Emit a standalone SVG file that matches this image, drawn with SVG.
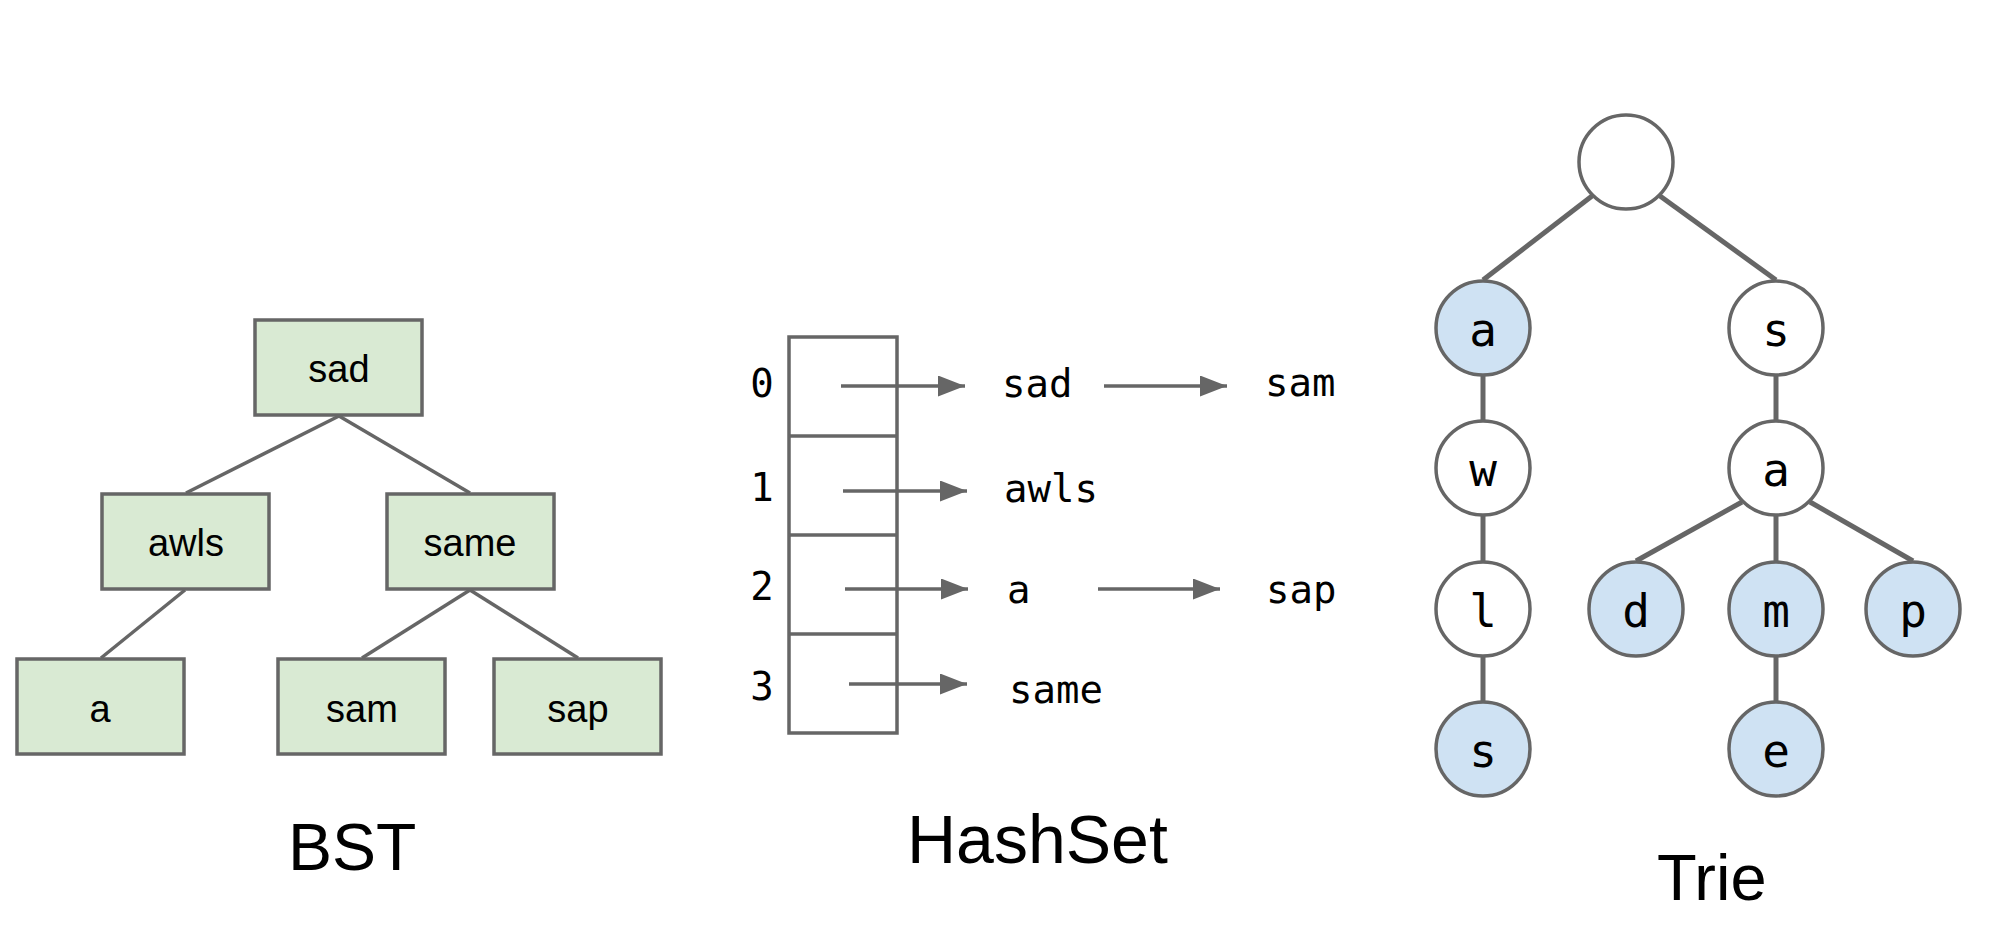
<svg xmlns="http://www.w3.org/2000/svg" width="1992" height="950" viewBox="0 0 1992 950">
<defs>
<style>
.bst rect{fill:#d9ead3;stroke:#666666;stroke-width:3.5}
.bt{font-family:"Liberation Sans",Arial,sans-serif;font-size:38px;fill:#000;text-anchor:middle}
.title{font-family:"Liberation Sans",Arial,sans-serif;fill:#000}
.edge{stroke:#666666;stroke-width:3.5;fill:none}
.tedge{stroke:#666666;stroke-width:5;fill:none}
.mono{font-family:"DejaVu Sans Mono","Liberation Mono",monospace;font-size:39px;fill:#000}
.tn circle{stroke:#666666;stroke-width:3.5;fill:#ffffff}
.tn.term circle{fill:#cfe2f3}
.tt{font-family:"DejaVu Sans Mono","Liberation Mono",monospace;font-size:46px;fill:#000;text-anchor:middle}
.arrow{stroke:#666666;stroke-width:3.5;fill:none;marker-end:url(#ah)}
.bucket{fill:none;stroke:#666666;stroke-width:3.5}
</style>
<marker id="ah" markerUnits="userSpaceOnUse" markerWidth="27" markerHeight="21" refX="27" refY="10.5" orient="auto">
<path d="M0,0 L27,10.5 L0,21 z" fill="#666666"/>
</marker>
</defs>
<rect width="1992" height="950" fill="#ffffff"/>

<!-- BST connectors -->
<g id="bst-connectors">
<line class="edge" x1="339" y1="416" x2="186" y2="493"/>
<line class="edge" x1="339" y1="416" x2="470" y2="493"/>
<line class="edge" x1="185" y1="590" x2="101" y2="658"/>
<line class="edge" x1="470" y1="590" x2="362" y2="658"/>
<line class="edge" x1="470" y1="590" x2="578" y2="658"/>
</g>

<g id="bst-sad" class="bst"><rect x="255" y="320" width="167" height="95"/><text class="bt" x="339" y="382">sad</text></g>
<g id="bst-awls" class="bst"><rect x="102" y="494" width="167" height="95"/><text class="bt" x="186" y="556">awls</text></g>
<g id="bst-same" class="bst"><rect x="387" y="494" width="167" height="95"/><text class="bt" x="470" y="556">same</text></g>
<g id="bst-a" class="bst"><rect x="17" y="659" width="167" height="95"/><text class="bt" x="100" y="722">a</text></g>
<g id="bst-sam" class="bst"><rect x="278" y="659" width="167" height="95"/><text class="bt" x="362" y="722">sam</text></g>
<g id="bst-sap" class="bst"><rect x="494" y="659" width="167" height="95"/><text class="bt" x="578" y="722">sap</text></g>

<text id="title-bst" class="title" x="288" y="870" font-size="66">BST</text>

<!-- HashSet -->
<g id="hash-buckets">
<rect class="bucket" x="789" y="337" width="108" height="396"/>
<line class="edge" x1="789" y1="436" x2="897" y2="436"/>
<line class="edge" x1="789" y1="535" x2="897" y2="535"/>
<line class="edge" x1="789" y1="634" x2="897" y2="634"/>
<text class="mono" x="762" y="397" text-anchor="middle">0</text>
<text class="mono" x="762" y="501" text-anchor="middle">1</text>
<text class="mono" x="762" y="600" text-anchor="middle">2</text>
<text class="mono" x="762" y="700" text-anchor="middle">3</text>
</g>
<g id="hash-connectors">
<line class="arrow" x1="841" y1="386" x2="965" y2="386"/>
<line class="arrow" x1="843" y1="491" x2="967" y2="491"/>
<line class="arrow" x1="845" y1="589" x2="968" y2="589"/>
<line class="arrow" x1="849" y1="684" x2="967" y2="684"/>
<line class="arrow" x1="1104" y1="386" x2="1227" y2="386"/>
<line class="arrow" x1="1098" y1="589" x2="1220" y2="589"/>
</g>
<g id="hash-sad"><text class="mono" x="1002" y="397">sad</text></g>
<g id="hash-sam"><text class="mono" x="1265" y="396">sam</text></g>
<g id="hash-awls"><text class="mono" x="1004" y="502">awls</text></g>
<g id="hash-a"><text class="mono" x="1007" y="603">a</text></g>
<g id="hash-sap"><text class="mono" x="1266" y="603">sap</text></g>
<g id="hash-same"><text class="mono" x="1009" y="703">same</text></g>

<text id="title-hashset" class="title" x="907" y="863" font-size="68">HashSet</text>

<!-- Trie -->
<g id="trie-connectors">
<line class="tedge" x1="1592" y1="196" x2="1483" y2="280"/>
<line class="tedge" x1="1660" y1="196" x2="1776" y2="280"/>
<line class="tedge" x1="1483" y1="376" x2="1483" y2="420"/>
<line class="tedge" x1="1776" y1="376" x2="1776" y2="420"/>
<line class="tedge" x1="1483" y1="516" x2="1483" y2="561"/>
<line class="tedge" x1="1483" y1="657" x2="1483" y2="701"/>
<line class="tedge" x1="1742" y1="502" x2="1636" y2="561"/>
<line class="tedge" x1="1776" y1="516" x2="1776" y2="561"/>
<line class="tedge" x1="1810" y1="502" x2="1913" y2="561"/>
<line class="tedge" x1="1776" y1="657" x2="1776" y2="701"/>
</g>
<g id="trie-root" class="tn"><circle cx="1626" cy="162" r="47"/></g>
<g id="trie-a" class="tn term"><circle cx="1483" cy="328" r="47"/><text class="tt" x="1483" y="346">a</text></g>
<g id="trie-s" class="tn"><circle cx="1776" cy="328" r="47"/><text class="tt" x="1776" y="346">s</text></g>
<g id="trie-w" class="tn"><circle cx="1483" cy="468" r="47"/><text class="tt" x="1483" y="486">w</text></g>
<g id="trie-sa" class="tn"><circle cx="1776" cy="468" r="47"/><text class="tt" x="1776" y="486">a</text></g>
<g id="trie-l" class="tn"><circle cx="1483" cy="609" r="47"/><text class="tt" x="1483" y="627">l</text></g>
<g id="trie-d" class="tn term"><circle cx="1636" cy="609" r="47"/><text class="tt" x="1636" y="627">d</text></g>
<g id="trie-m" class="tn term"><circle cx="1776" cy="609" r="47"/><text class="tt" x="1776" y="627">m</text></g>
<g id="trie-p" class="tn term"><circle cx="1913" cy="609" r="47"/><text class="tt" x="1913" y="627">p</text></g>
<g id="trie-s2" class="tn term"><circle cx="1483" cy="749" r="47"/><text class="tt" x="1483" y="767">s</text></g>
<g id="trie-e" class="tn term"><circle cx="1776" cy="749" r="47"/><text class="tt" x="1776" y="767">e</text></g>

<text id="title-trie" class="title" x="1657" y="900" font-size="65">Trie</text>
</svg>
